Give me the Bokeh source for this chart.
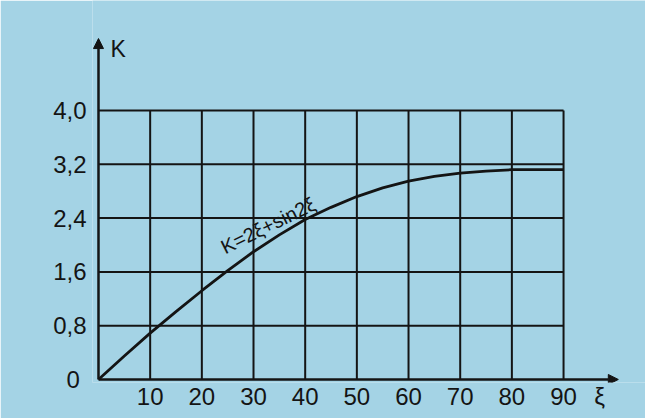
from bokeh.plotting import figure
from bokeh.models import FixedTicker, Arrow, NormalHead, Range1d
from bokeh.core.properties import value
from bokeh.embed import file_html
from bokeh.resources import INLINE

# ---- data ----
xi_deg = [0, 5, 10, 15, 20, 25, 30, 35, 40, 45, 50, 55, 60, 65, 70, 75, 80, 85, 90]
k_vals = [0, 0.35, 0.69, 1.01, 1.32, 1.62, 1.90, 2.15, 2.38, 2.56, 2.72, 2.85, 2.95, 3.02, 3.07, 3.10, 3.12, 3.12, 3.12]
x_ticks = [10, 20, 30, 40, 50, 60, 70, 80, 90]
y_ticks = [0, 0.8, 1.6, 2.4, 3.2, 4.0]
y_tick_labels = ["0\u00a0", "0,8", "1,6", "2,4", "3,2", "4,0"]
x_axis_label = "ξ"
y_axis_label = "K"
curve_label = "K=2ξ+sin2ξ"

BG = "#a4d3e5"
INK = "#141414"
FONT = "Liberation Sans"

p = figure(width=645, height=418, output_backend="svg", toolbar_location=None,
           x_range=Range1d(-1.16, 105.86), y_range=Range1d(-0.045, 5.636),
           min_border_left=92, min_border_right=0, min_border_top=0, min_border_bottom=36)
p.background_fill_color = BG
p.border_fill_color = BG
p.outline_line_color = None
p.grid.visible = False

# axes: only labels from Bokeh axes
p.xaxis.ticker = FixedTicker(ticks=x_ticks + [97])
p.xaxis.major_label_overrides = {**{t: str(t) for t in x_ticks}, 97: x_axis_label}
p.yaxis.ticker = FixedTicker(ticks=y_ticks)
p.yaxis.major_label_overrides = dict(zip(y_ticks, y_tick_labels))
for ax in (p.xaxis[0], p.yaxis[0]):
    ax.axis_line_color = None
    ax.major_tick_line_color = None
    ax.minor_tick_line_color = None
    ax.major_tick_out = 0
    ax.major_tick_in = 0
    ax.major_label_text_font = FONT
    ax.major_label_text_font_size = "24px"
    ax.major_label_text_color = INK
p.xaxis.major_label_standoff = 0
p.yaxis.major_label_standoff = 6

# grid lines limited to the drawn box
x_max = x_ticks[-1]
y_max = y_ticks[-1]
p.segment(x0=x_ticks, y0=[0] * len(x_ticks), x1=x_ticks, y1=[y_max] * len(x_ticks),
          line_color=INK, line_width=2)
hy = y_ticks[1:]
p.segment(x0=[0] * len(hy), y0=hy, x1=[x_max] * len(hy), y1=hy,
          line_color=INK, line_width=2)

# axes with arrows
p.add_layout(Arrow(x_start=0, y_start=0, x_end=100.6, y_end=0, line_color=INK, line_width=2.5,
                   end=NormalHead(size=10, fill_color=INK, line_color=INK)))
p.add_layout(Arrow(x_start=0, y_start=0, x_end=0, y_end=5.07, line_color=INK, line_width=2.5,
                   end=NormalHead(size=10, fill_color=INK, line_color=INK)))

# curve
p.line(xi_deg, k_vals, line_color=INK, line_width=2.8)

# texts
p.text(x=[2.3], y=[4.92], text=[y_axis_label], text_font=value(FONT), text_font_size="23px",
       text_color=INK, text_align="left", text_baseline="middle")
p.text(x=[32.8], y=[2.29], text=[curve_label], text_font=value(FONT), text_font_size="20px",
       text_color=INK, text_align="center", text_baseline="middle", angle=0.46)

open("out.html", "w").write(file_html(p, INLINE))
